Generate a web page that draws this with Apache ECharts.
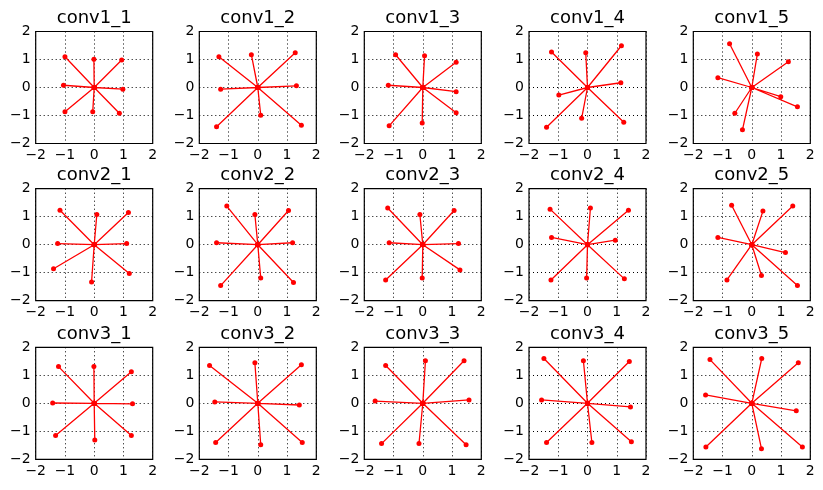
<!DOCTYPE html>
<html>
<head>
<meta charset="utf-8">
<script src="https://cdn.jsdelivr.net/npm/echarts@6/dist/echarts.min.js"></script>
<style>
  html, body { margin: 0; padding: 0; background: #fff; }
  #main { width: 823px; height: 490px; }
</style>
</head>
<body>
<div id="main"></div>
<script>
// panel titles and tick values
var titles = ['conv1_1', 'conv1_2', 'conv1_3', 'conv1_4', 'conv1_5',
              'conv2_1', 'conv2_2', 'conv2_3', 'conv2_4', 'conv2_5',
              'conv3_1', 'conv3_2', 'conv3_3', 'conv3_4', 'conv3_5'];
var ticks = [-2, -1, 0, 1, 2];

// end points of the 8 spokes in each panel (x, y)
var conv1_1 = [[-1.0, 1.1], [-0.01, 1.01], [0.94, 0.98], [-1.05, 0.08], [0.98, -0.06], [-1.0, -0.87], [-0.05, -0.87], [0.86, -0.92]];
var conv1_2 = [[-1.33, 1.1], [-0.22, 1.17], [1.28, 1.24], [-1.27, -0.06], [1.32, 0.06], [0.1, -0.99], [-1.41, -1.4], [1.49, -1.35]];
var conv1_3 = [[-0.93, 1.17], [0.06, 1.13], [1.14, 0.9], [-1.18, 0.08], [1.14, -0.15], [1.14, -0.9], [-1.15, -1.37], [-0.02, -1.27]];
var conv1_4 = [[-1.23, 1.27], [-0.06, 1.24], [1.16, 1.49], [1.14, 0.17], [-0.98, -0.27], [-0.2, -1.1], [-1.4, -1.42], [1.24, -1.24]];
var conv1_5 = [[-0.76, 1.56], [0.19, 1.2], [1.25, 0.92], [-1.16, 0.35], [0.99, -0.33], [1.56, -0.69], [-0.58, -0.92], [-0.32, -1.51]];
var conv2_1 = [[-1.17, 1.23], [0.09, 1.08], [1.17, 1.15], [-1.25, 0.04], [1.11, 0.04], [-1.39, -0.86], [-0.09, -1.33], [1.2, -1.03]];
var conv2_2 = [[-1.06, 1.38], [-0.1, 1.08], [1.05, 1.22], [-1.41, 0.07], [1.19, 0.07], [0.1, -1.19], [-1.27, -1.46], [1.22, -1.35]];
var conv2_3 = [[-1.2, 1.31], [-0.1, 1.08], [1.07, 1.22], [-1.15, 0.07], [1.22, 0.04], [1.27, -0.9], [-1.27, -1.26], [-0.02, -1.19]];
var conv2_4 = [[-1.28, 1.27], [0.1, 1.31], [1.4, 1.23], [-1.23, 0.26], [0.95, 0.16], [-1.25, -1.26], [-0.03, -1.19], [1.26, -1.22]];
var conv2_5 = [[-0.69, 1.41], [0.38, 1.2], [1.4, 1.38], [-1.16, 0.26], [1.15, -0.28], [-0.85, -1.26], [0.33, -1.1], [1.56, -1.46]];
var conv3_1 = [[-1.22, 1.31], [-0.01, 1.31], [1.27, 1.13], [-1.42, 0.01], [1.31, -0.02], [-1.32, -1.15], [0.02, -1.31], [1.27, -1.15]];
var conv3_2 = [[-1.65, 1.35], [-0.1, 1.45], [1.49, 1.38], [-1.47, 0.05], [1.42, -0.06], [-1.44, -1.4], [0.1, -1.48], [1.52, -1.4]];
var conv3_3 = [[-1.27, 1.35], [0.09, 1.52], [1.41, 1.52], [-1.63, 0.08], [1.58, 0.12], [-1.41, -1.44], [-0.13, -1.44], [1.48, -1.48]];
var conv3_4 = [[-1.49, 1.6], [-0.14, 1.52], [1.43, 1.49], [-1.57, 0.12], [1.47, -0.13], [-1.4, -1.4], [0.15, -1.4], [1.5, -1.37]];
var conv3_5 = [[-1.43, 1.56], [0.34, 1.6], [1.59, 1.45], [-1.58, 0.3], [1.52, -0.27], [-1.57, -1.56], [0.33, -1.62], [1.73, -1.56]];

var panels = [conv1_1, conv1_2, conv1_3, conv1_4, conv1_5,
              conv2_1, conv2_2, conv2_3, conv2_4, conv2_5,
              conv3_1, conv3_2, conv3_3, conv3_4, conv3_5];

var myChart = echarts.init(document.getElementById('main'), null, { renderer: 'canvas' });

var colLeft = [35.7, 199.3, 364.3, 529, 693.3];
var rowTop = [31.5, 188.7, 347.3];
var boxW = 117, boxH = 112;
var font = 'DejaVu Sans';

function minus(v) {
  return String(v).replace('-', '\u2212');
}

var grid = [], xAxis = [], yAxis = [], series = [], title = [];

panels.forEach(function (pts, i) {
  var r = Math.floor(i / 5), c = i % 5;
  grid.push({
    left: colLeft[c], top: rowTop[r], width: boxW, height: boxH,
    show: true, borderColor: '#000', borderWidth: 1.2, backgroundColor: '#fff'
  });
  title.push({
    text: titles[i],
    left: colLeft[c] + boxW / 2, top: rowTop[r] - 22,
    textAlign: 'center',
    padding: 0,
    textStyle: { fontFamily: font, fontSize: 18, fontWeight: 'normal', color: '#000' }
  });
  var axisCommon = {
    gridIndex: i, type: 'value', min: ticks[0], max: ticks[ticks.length - 1], interval: 1,
    axisLine: { show: false },
    axisTick: { show: false },
    splitLine: { show: true, lineStyle: { color: '#000', width: 1, type: [1, 3] } },
    axisLabel: { fontFamily: font, fontSize: 14, color: '#000', formatter: minus, margin: 5 }
  };
  xAxis.push(Object.assign({}, axisCommon));
  yAxis.push(Object.assign({}, axisCommon));
  // spokes: origin -> point -> origin -> point ...
  var data = [];
  pts.forEach(function (p) {
    data.push([0, 0]);
    data.push(p);
  });
  series.push({
    type: 'line', xAxisIndex: i, yAxisIndex: i,
    data: data,
    symbol: 'circle', symbolSize: 5,
    showAllSymbol: true,
    lineStyle: { color: '#ff0000', width: 1.3 },
    itemStyle: { color: '#ff0000' }
  });
});

var option = {
  backgroundColor: '#fff',
  animation: false,
  title: title,
  grid: grid,
  xAxis: xAxis,
  yAxis: yAxis,
  series: series
};

myChart.setOption(option);
</script>
</body>
</html>
